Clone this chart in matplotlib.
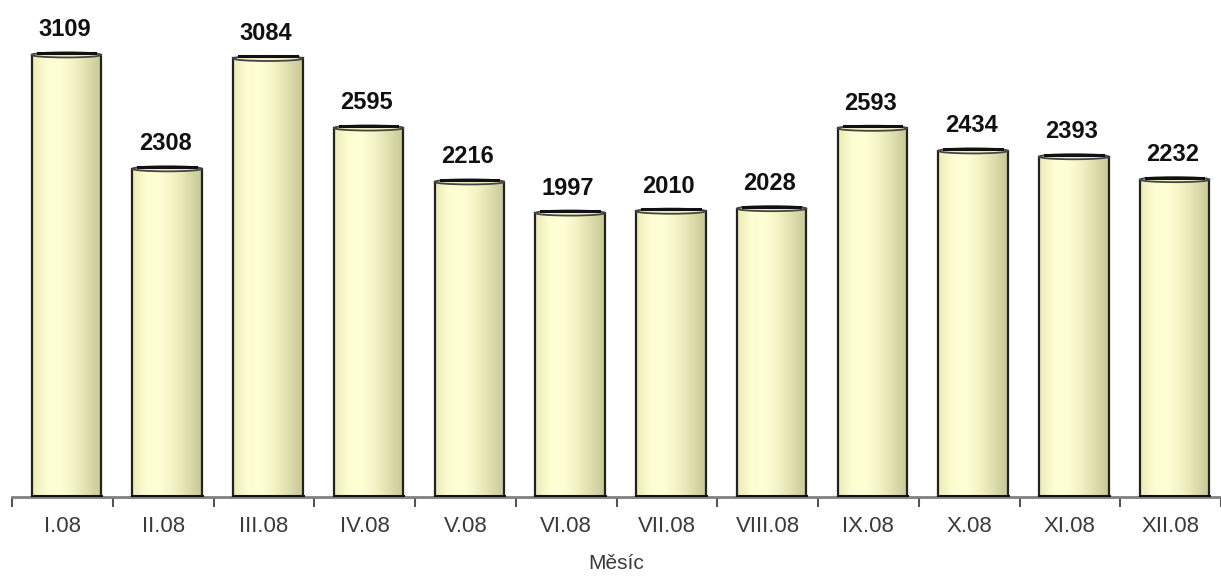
import numpy as np
import matplotlib
matplotlib.use("Agg")
from matplotlib import pyplot as plt
from matplotlib.patches import Ellipse
from matplotlib.colors import LinearSegmentedColormap

months = ["I.08", "II.08", "III.08", "IV.08", "V.08", "VI.08",
          "VII.08", "VIII.08", "IX.08", "X.08", "XI.08", "XII.08"]
values = [3109, 2308, 3084, 2595, 2216, 1997, 2010, 2028, 2593, 2434, 2393, 2232]

plt.rcParams["font.family"] = ["Liberation Sans", "DejaVu Sans"]

fig = plt.figure(figsize=(12.21, 5.79), dpi=100)
ax = fig.add_axes([12 / 1221, 82 / 579, 1209 / 1221, 497 / 579])

# cylinder shading across the bar width
cyl = LinearSegmentedColormap.from_list(
    "cyl", ["#ecebb8", "#fdfdd2", "#ffffd6", "#f2f2c4", "#dedeae", "#c9c896"])
grad = np.linspace(0, 1, 64).reshape(1, -1)

width = 0.69
shift = 0.04
cap_h = 36  # ellipse height in data units (~5 px)

for i, v in enumerate(values):
    x0 = i + shift - width / 2
    x1 = i + shift + width / 2
    ax.imshow(grad, cmap=cyl, aspect="auto", extent=[x0, x1, 0, v],
              zorder=2, interpolation="bicubic")
    ax.plot([x0, x0], [0, v], color="#222222", lw=1.6, zorder=3)
    ax.plot([x1, x1], [0, v], color="#222222", lw=1.6, zorder=3)
    ax.plot([x0, x1], [8, 8], color="#111111", lw=2.2, zorder=3)
    ax.add_patch(Ellipse((i + shift, v), width, cap_h, facecolor="#f4f3c8",
                         edgecolor="#444444", lw=1.3, zorder=4))
    ax.plot([x0 + 0.06, x1 - 0.06], [v + cap_h / 2 - 4] * 2,
            color="#111111", lw=2.2, zorder=5)
    ax.text(i + shift - 0.02, v + 95, str(v), ha="center", va="bottom",
            fontsize=17, fontweight="bold", color="#111111", zorder=6)

ax.set_xlim(-0.5, 11.5)
ax.set_ylim(0, 3495)

for s in ["top", "right", "left"]:
    ax.spines[s].set_visible(False)
ax.spines["bottom"].set_color("#808080")
ax.spines["bottom"].set_linewidth(2)
ax.set_yticks([])

ax.set_xticks(np.arange(-0.5, 12, 1))
ax.set_xticklabels([])
ax.tick_params(axis="x", which="major", length=7, width=1.5, color="#555555")
ax.set_xticks(np.arange(12), minor=True)
ax.set_xticklabels(months, minor=True)
ax.tick_params(axis="x", which="minor", length=0, pad=14,
               labelsize=16, labelcolor="#3a3a3a")

ax.set_xlabel("Měsíc", fontsize=15, color="#3a3a3a", labelpad=12)

fig.savefig("out.png", dpi=100)
